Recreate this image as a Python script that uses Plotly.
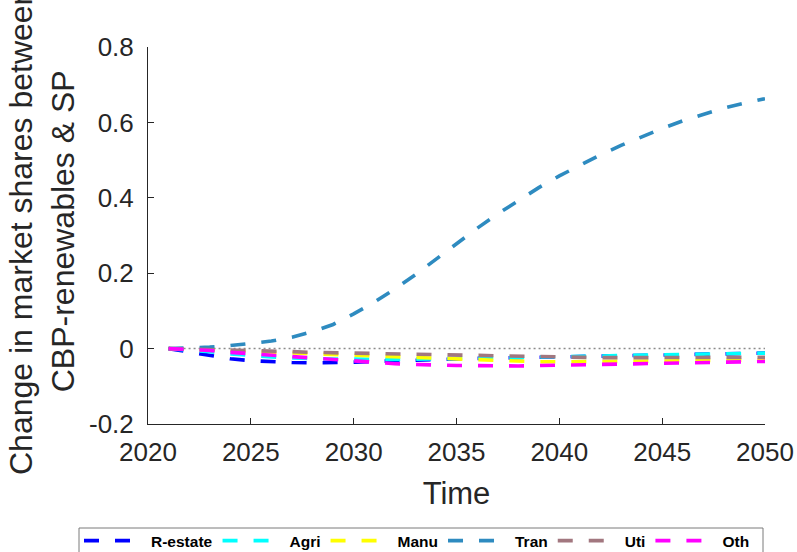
import plotly.graph_objects as go

# Years of the projection
years = list(range(2021, 2051))

# Change in market shares (CBP-renewables minus SP) per sector
r_estate = [0.000, -0.009, -0.019, -0.027, -0.032, -0.035, -0.037, -0.038, -0.038, -0.036,
            -0.034, -0.032, -0.030, -0.029, -0.027, -0.026, -0.025, -0.024, -0.023, -0.021,
            -0.020, -0.019, -0.018, -0.017, -0.016, -0.015, -0.014, -0.014, -0.013, -0.012]
agri = [0.000, -0.003, -0.008, -0.014, -0.019, -0.022, -0.025, -0.027, -0.028, -0.028,
        -0.029, -0.029, -0.028, -0.027, -0.026, -0.025, -0.024, -0.023, -0.022, -0.020,
        -0.019, -0.018, -0.017, -0.016, -0.015, -0.014, -0.014, -0.013, -0.012, -0.012]
manu = [0.000, -0.002, -0.004, -0.007, -0.009, -0.011, -0.013, -0.015, -0.017, -0.018,
        -0.020, -0.022, -0.024, -0.026, -0.028, -0.031, -0.033, -0.034, -0.035, -0.035,
        -0.035, -0.034, -0.034, -0.033, -0.033, -0.032, -0.031, -0.031, -0.030, -0.030]
tran = [0.000, 0.001, 0.004, 0.008, 0.013, 0.020, 0.030, 0.045, 0.064, 0.092,
        0.123, 0.158, 0.196, 0.237, 0.279, 0.319, 0.357, 0.393, 0.427, 0.458,
        0.487, 0.514, 0.539, 0.562, 0.584, 0.604, 0.622, 0.638, 0.651, 0.663]
uti = [0.000, -0.001, -0.002, -0.003, -0.004, -0.006, -0.008, -0.010, -0.011, -0.012,
       -0.013, -0.015, -0.016, -0.018, -0.019, -0.020, -0.021, -0.022, -0.023, -0.023,
       -0.024, -0.024, -0.024, -0.024, -0.024, -0.024, -0.024, -0.024, -0.023, -0.023]
oth = [0.000, -0.002, -0.005, -0.010, -0.014, -0.017, -0.021, -0.026, -0.030, -0.034,
       -0.038, -0.040, -0.042, -0.044, -0.045, -0.045, -0.046, -0.046, -0.045, -0.044,
       -0.044, -0.043, -0.042, -0.041, -0.040, -0.039, -0.038, -0.036, -0.035, -0.034]

sectors = ["R-estate", "Agri", "Manu", "Tran", "Uti", "Oth"]
series = [r_estate, agri, manu, tran, uti, oth]
colors = ["#0000FF", "#00FFFF", "#FFFF00", "#2E8BC0", "#A2777F", "#FF00FF"]

x_ticks = [2020, 2025, 2030, 2035, 2040, 2045, 2050]
y_ticks = [-0.2, 0, 0.2, 0.4, 0.6, 0.8]
y_tick_text = ["-0.2", "0", "0.2", "0.4", "0.6", "0.8"]

ink = "#262626"
font = "Liberation Sans, Arial, sans-serif"

# plot area in pixels (for placing items outside the axes in paper units)
L, R, T, B = 148, 765, 47, 424
W, H = R - L, B - T


def px_x(p):
    return (p - L) / W


def px_y(p):
    return (B - p) / H


fig = go.Figure()

# dotted zero reference
fig.add_trace(go.Scatter(
    x=[years[0], years[-1]], y=[0, 0], mode="lines",
    line=dict(color="#8c8c8c", width=1.5, dash="2px,3px"),
    showlegend=False, hoverinfo="skip"))

for name, vals, col in zip(sectors, series, colors):
    fig.add_trace(go.Scatter(
        x=years, y=vals, mode="lines", name=name,
        line=dict(color=col, width=3.6, dash="15px,16px")))

fig.update_layout(
    width=797, height=552,
    margin=dict(l=L, r=797 - R, t=T, b=552 - B, autoexpand=False),
    paper_bgcolor="white", plot_bgcolor="white",
    font=dict(family=font, color=ink),
    showlegend=True,
    legend=dict(
        orientation="h", xref="paper", yref="paper",
        x=px_x(79), y=px_y(524), xanchor="left", yanchor="top",
        borderwidth=0, bgcolor="rgba(0,0,0,0)",
        font=dict(family=font, size=15.5, color="black", weight="bold"),
        itemwidth=62, tracegroupgap=0),
    # legend frame
    shapes=[dict(
        type="rect", xref="paper", yref="paper",
        x0=px_x(79), x1=px_x(763), y0=px_y(528), y1=px_y(562),
        line=dict(color="#7a7a7a", width=1), fillcolor="white", layer="below")],
    xaxis=dict(
        range=[2020, 2050], tickvals=x_ticks, ticks="inside", ticklen=6,
        tickcolor=ink, showline=True, linecolor=ink, linewidth=1,
        showgrid=False, zeroline=False, mirror=False, automargin=False,
        tickfont=dict(size=26, color=ink), ticklabelstandoff=5,
        title=dict(text="Time", font=dict(size=31, color=ink), standoff=16)),
    yaxis=dict(
        range=[-0.2, 0.8], tickvals=y_ticks, ticktext=y_tick_text,
        ticks="inside", ticklen=6, tickcolor=ink, showline=True,
        linecolor=ink, linewidth=1, showgrid=False, zeroline=False,
        mirror=False, automargin=False,
        tickfont=dict(size=26, color=ink), ticklabelstandoff=8),
    annotations=[dict(
        text="Change in market shares between<br>CBP-renewables & SP",
        xref="paper", yref="paper", x=px_x(42), y=px_y(232),
        xanchor="center", yanchor="middle", textangle=-90, showarrow=False,
        font=dict(size=32, color=ink, family=font), align="center")],
)

fig.write_html("out.html")
